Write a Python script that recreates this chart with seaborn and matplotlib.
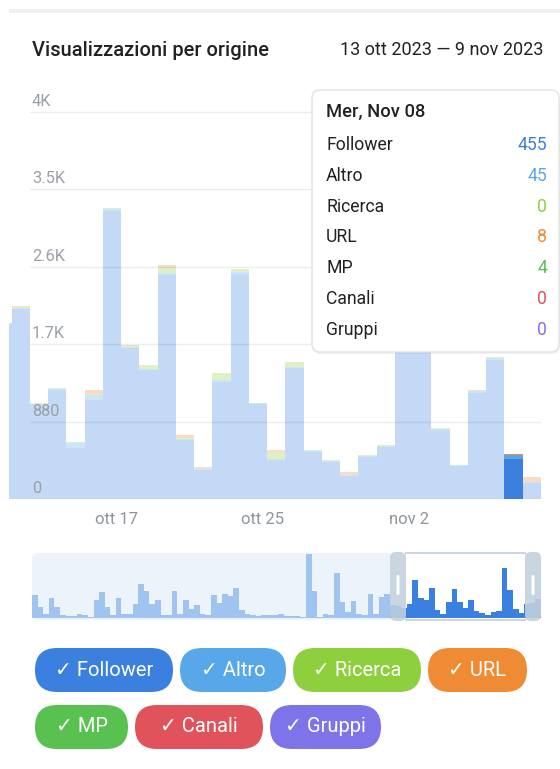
import pandas as pd
import matplotlib
matplotlib.use("Agg")
import matplotlib.pyplot as plt
from matplotlib.patches import FancyBboxPatch, Rectangle
from matplotlib.colors import to_rgb
import seaborn as sns

sns.set_theme(style="white")
plt.rcParams['font.family'] = ['Roboto', 'DejaVu Sans']

# giorni visibili nel grafico principale (11 ott - 9 nov, il primo e' tagliato)
giorni = pd.date_range("2023-10-11", "2023-11-09").strftime("%m-%d").tolist()
giorno_sel = "11-08"

follower = [1985, 2160, 1070, 1235, 585, 1120, 3280, 1720, 1470, 2550, 670, 330, 1335, 2560, 1075,
            440, 1490, 540, 425, 258, 480, 595, 2260, 2250, 785, 370, 1210, 1580, 455, 180]
altro = [10, 15, 15, 20, 55, 68, 20, 12, 12, 20, 15, 10, 18, 18, 12,
         12, 15, 10, 12, 12, 14, 12, 25, 30, 14, 12, 20, 25, 45, 8]
ricerca = [0, 12, 3, 4, 3, 4, 5, 5, 38, 57, 3, 0, 76, 34, 2,
           76, 49, 3, 2, 0, 2, 3, 8, 10, 3, 1, 3, 4, 0, 0]
url = [0, 2, 2, 1, 3, 45, 2, 10, 2, 30, 38, 23, 2, 1, 1,
       27, 2, 2, 2, 35, 2, 2, 4, 5, 3, 2, 4, 4, 8, 63]
mp = [6, 5, 2, 2, 2, 2, 2, 4, 2, 4, 2, 1, 2, 2, 2,
      2, 2, 2, 2, 2, 2, 2, 3, 5, 2, 2, 2, 2, 4, 3]
canali = [0, 0, 0, 0, 0, 0, 0, 0, 0, 0, 0, 0, 0, 0, 0,
          0, 0, 0, 0, 0, 0, 0, 0, 0, 0, 0, 0, 0, 0, 0]
gruppi = [0, 0, 0, 0, 0, 0, 0, 0, 0, 0, 0, 0, 0, 0, 0,
          0, 0, 0, 0, 0, 0, 0, 0, 0, 0, 0, 0, 0, 0, 0]

y_ticks = [0, 880, 1760, 2640, 3520, 4400]
y_labels = ["0", "880", "1.7K", "2.6K", "3.5K", "4K"]
x_tick_giorni = ["10-17", "10-25", "11-02"]
x_tick_labels = ["ott 17", "ott 25", "nov 2"]

# panoramica (mini grafico in basso), valori relativi
panoramica = [68, 33, 13, 58, 33, 8, 5, 5, 13, 8, 3, 53, 78, 33, 8, 58, 11, 13, 43, 100,
              80, 43, 53, 10, 8, 80, 13, 53, 26, 40, 13, 8, 68, 46, 70, 65, 88, 23, 13, 10,
              5, 8, 9, 10, 13, 5, 6, 5, 3, 190, 80, 3, 13, 10, 135, 48, 18, 50, 13, 10,
              70, 11, 63, 70, 38, 35, 30, 42, 112, 60, 52, 90, 24, 12, 47, 87, 47, 30, 52, 20,
              15, 10, 19, 22, 147, 84, 27, 16, 42, 45, 55]
inizio_sel = 64

colori = {"Follower": "#3b7fdf", "Altro": "#58a7e9", "Ricerca": "#8dcf3d", "URL": "#ef8a35",
          "MP": "#58c14f", "Canali": "#e0535a", "Gruppi": "#7e74ea"}


def sbiadisci(c, a=0.3):
    r, g, b = to_rgb(c)
    return (1 - a * (1 - r), 1 - a * (1 - g), 1 - a * (1 - b))


W, H = 560, 769
fig = plt.figure(figsize=(W / 100, H / 100), dpi=100)
fig.patch.set_facecolor("white")

# tela di sfondo in pixel
bg = fig.add_axes([0, 0, 1, 1], zorder=0)
bg.set_xlim(0, W)
bg.set_ylim(H, 0)
bg.axis("off")

bg.add_patch(Rectangle((9, 9), 551, 4, fc="#f0f0f0", ec="none"))
bg.text(32, 50, "Visualizzazioni per origine", fontsize=14.5, weight=500, color="#222222",
        va="center", ha="left")
bg.text(543, 50, "13 ott 2023 — 9 nov 2023", fontsize=13, color="#222222", va="center", ha="right")

# grafico principale
left, right, base, top = 9, 541, 499, 100
ax = fig.add_axes([left / W, (H - base) / H, (right - left) / W, (base - top) / H], zorder=2)
ax.set_facecolor("none")

df = pd.DataFrame({"Follower": follower, "Altro": altro, "Ricerca": ricerca, "URL": url,
                   "MP": mp, "Canali": canali, "Gruppi": gruppi}, index=giorni)
cum = df.cumsum(axis=1)

for nome in reversed(df.columns):
    pal = {g: (colori[nome] if g == giorno_sel else sbiadisci(colori[nome])) for g in giorni}
    sns.barplot(x=giorni, y=cum[nome].values, hue=giorni, palette=pal, order=giorni,
                hue_order=giorni, width=1.0, saturation=1, linewidth=0, errorbar=None,
                legend=False, ax=ax)

px_per_val = 77.4 / 880
ax.set_ylim(0, (base - top) / px_per_val)
ax.set_xlim(0.35, 29.5)
for s in ax.spines.values():
    s.set_visible(False)
ax.set_xlabel("")
ax.set_ylabel("")
ax.set_yticks([])
ax.set_xticks([giorni.index(g) + 0.25 for g in x_tick_giorni])
ax.set_xticklabels(x_tick_labels, fontsize=12, color="#8e959c")
ax.tick_params(axis="x", length=0, pad=9)

xfrac = (32 - left) / (right - left)
for v, lab in zip(y_ticks, y_labels):
    ax.axhline(v, xmin=(30 - left) / (right - left), xmax=1, color="black", alpha=0.07, lw=1, zorder=5)
    ax.annotate(lab, xy=(xfrac, v), xycoords=("axes fraction", "data"), xytext=(0, 3),
                textcoords="offset pixels", fontsize=11.8, color="#9aa0a6", ha="left", va="bottom",
                zorder=6)

# mini grafico
mx0, mx1, my0, my1 = 32, 541, 553, 620
bg.add_patch(FancyBboxPatch((mx0, my0), mx1 - mx0, my1 - my0,
                            boxstyle="round,pad=0,rounding_size=6", fc="#edf3fb", ec="none"))
n = len(panoramica)
bw = (mx1 - mx0) / n
sel_x0 = mx0 + inizio_sel * bw
hw = 16
bg.add_patch(Rectangle((sel_x0 + hw, my0), mx1 - hw - sel_x0 - hw, my1 - my0, fc="white", ec="none"))

mb = 618
axm = fig.add_axes([mx0 / W, (H - mb) / H, (mx1 - mx0) / W, 64 / H], zorder=2)
axm.set_facecolor("none")
etichette = [str(i) for i in range(n)]
pal_m = {e: ("#3a80e0" if i >= inizio_sel else "#a0c4f0") for i, e in enumerate(etichette)}
sns.barplot(x=etichette, y=panoramica, hue=etichette, palette=pal_m, order=etichette,
            hue_order=etichette, width=1.0, saturation=1, linewidth=0, errorbar=None,
            legend=False, ax=axm)
axm.set_xlim(-0.5, n - 0.5)
axm.set_ylim(0, max(panoramica))
axm.axis("off")

# overlay: cornice selezione, tooltip, chip
ov = fig.add_axes([0, 0, 1, 1], zorder=5)
ov.set_xlim(0, W)
ov.set_ylim(H, 0)
ov.axis("off")
ov.set_facecolor("none")

fc_h = (0.77, 0.82, 0.87, 0.88)
ov.add_patch(FancyBboxPatch((sel_x0, my0 - 1), hw, my1 - my0 + 2,
                            boxstyle="round,pad=0,rounding_size=6", fc=fc_h, ec="none"))
ov.add_patch(FancyBboxPatch((mx1 - hw, my0 - 1), hw, my1 - my0 + 2,
                            boxstyle="round,pad=0,rounding_size=6", fc=fc_h, ec="none"))
ov.add_patch(Rectangle((sel_x0 + hw - 1, my0 - 1), mx1 - sel_x0 - 2 * hw + 2, 2, fc=fc_h, ec="none"))
ov.add_patch(Rectangle((sel_x0 + hw - 1, my1 - 1), mx1 - sel_x0 - 2 * hw + 2, 2, fc=fc_h, ec="none"))
for cx in (sel_x0 + hw / 2, mx1 - hw / 2):
    ov.add_patch(FancyBboxPatch((cx - 1.5, 575), 3, 20, boxstyle="round,pad=0,rounding_size=1.5",
                                fc="white", ec="none"))

# tooltip
ov.add_patch(FancyBboxPatch((313, 92), 247, 262, boxstyle="round,pad=0,rounding_size=8",
                            fc=(0, 0, 0, 0.05), ec="none"))
ov.add_patch(FancyBboxPatch((312, 90), 247, 262, boxstyle="round,pad=0,rounding_size=8",
                            fc="white", ec="#e2e2e2", lw=1))
ov.text(326, 112, "Mer, Nov 08", fontsize=13.2, weight=500, color="#222222", va="center")
for i, nome in enumerate(df.columns):
    yy = 145 + i * 30.8
    ov.text(326, yy, nome, fontsize=12.7, color="#222222", va="center")
    ov.text(547, yy, str(df.loc[giorno_sel, nome]), fontsize=12.7, color=colori[nome],
            va="center", ha="right")

# chip della legenda
chips = [("Follower", 35, 173, 648), ("Altro", 180, 286, 648), ("Ricerca", 293, 421, 648),
         ("URL", 428, 527, 648), ("MP", 35, 128, 705), ("Canali", 135, 263, 705),
         ("Gruppi", 270, 381, 705)]
for nome, x0, x1, y0 in chips:
    ov.add_patch(FancyBboxPatch((x0, y0), x1 - x0, 44, boxstyle="round,pad=0,rounding_size=22",
                                fc=colori[nome], ec="none"))
    ov.text((x0 + x1) / 2, y0 + 22, "✓ " + nome, fontsize=14.5, color="white",
            ha="center", va="center")

fig.savefig("out.png", dpi=100, facecolor="white")
